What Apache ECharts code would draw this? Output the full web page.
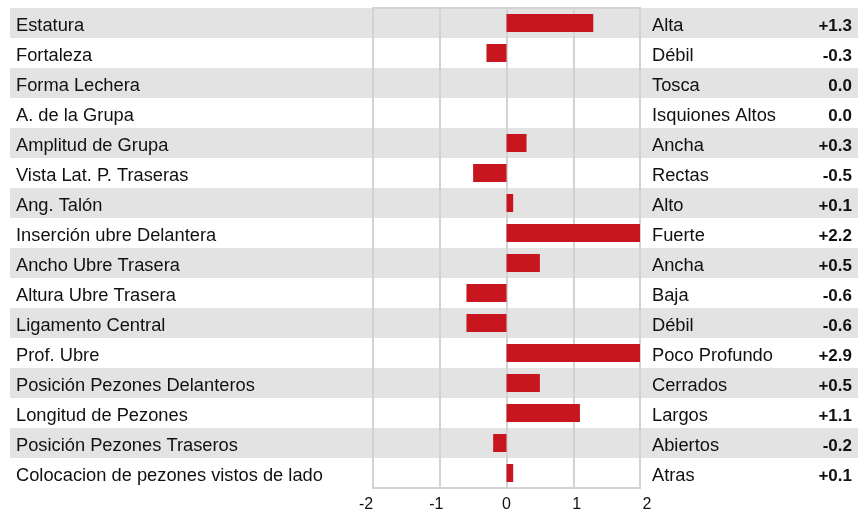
<!DOCTYPE html>
<html>
<head>
<meta charset="utf-8">
<script src="https://cdn.jsdelivr.net/npm/echarts@6/dist/echarts.min.js"></script>
<style>
  html, body { margin: 0; padding: 0; background: #fff; }
  #chart { width: 865px; height: 513px; }
</style>
</head>
<body>
<div id="chart"></div>
<script>
const traits = [
  "Estatura", "Fortaleza", "Forma Lechera", "A. de la Grupa",
  "Amplitud de Grupa", "Vista Lat. P. Traseras", "Ang. Talón",
  "Inserción ubre Delantera", "Ancho Ubre Trasera", "Altura Ubre Trasera",
  "Ligamento Central", "Prof. Ubre", "Posición Pezones Delanteros",
  "Longitud de Pezones", "Posición Pezones Traseros",
  "Colocacion de pezones vistos de lado",
];
const descriptors = [
  "Alta", "Débil", "Tosca", "Isquiones Altos", "Ancha", "Rectas", "Alto",
  "Fuerte", "Ancha", "Baja", "Débil", "Poco Profundo", "Cerrados",
  "Largos", "Abiertos", "Atras",
];
const values = [1.3, -0.3, 0.0, 0.0, 0.3, -0.5, 0.1, 2.2, 0.5, -0.6, -0.6, 2.9, 0.5, 1.1, -0.2, 0.1];
const xTicks = [-2, -1, 0, 1, 2];

const fmt = (v) => (v > 0 ? "+" : "") + v.toFixed(1);
const font = "'Liberation Sans', Arial, Helvetica, sans-serif";
const gridGray = "#d3d3d3";
const textTop = 11; // row texts sit a little below the band centre

const chart = echarts.init(document.getElementById("chart"), null, { renderer: "canvas" });

chart.setOption({
  backgroundColor: "#fff",
  animation: false,
  textStyle: { fontFamily: font },
  grid: [
    // full-width row bands
    { left: 10, right: 7, top: 8, height: 480 },
    // plot area
    { left: 373, right: 225, top: 8, height: 480, show: true, borderColor: gridGray, borderWidth: 2, backgroundColor: "transparent" },
    // tick labels
    { left: 366, right: 218, top: 8, height: 480 },
    // left names + right values
    { left: 10, right: 7, top: textTop, height: 480 },
    // descriptors
    { left: 373, right: 225, top: textTop, height: 480 },
  ],
  xAxis: [
    { gridIndex: 0, type: "value", show: false },
    {
      gridIndex: 1, type: "value", min: -2, max: 2, interval: 1,
      axisLine: { show: false }, axisTick: { show: false }, axisLabel: { show: false },
      splitLine: { show: true, lineStyle: { color: gridGray, width: 2 } },
      z: 1,
    },
    {
      gridIndex: 2, type: "value", min: xTicks[0], max: xTicks[xTicks.length - 1], interval: 1,
      axisLine: { show: false }, axisTick: { show: false }, splitLine: { show: false },
      axisLabel: { margin: 14, color: "#111", fontSize: 16, fontFamily: font },
    },
    { gridIndex: 3, type: "value", show: false },
    { gridIndex: 4, type: "value", show: false },
  ],
  yAxis: [
    {
      gridIndex: 0, type: "category", inverse: true, data: traits,
      axisLine: { show: false }, axisTick: { show: false }, axisLabel: { show: false },
      splitArea: { show: true, areaStyle: { color: ["#e3e3e3", "#ffffff"] } },
      z: -1,
    },
    {
      gridIndex: 3, type: "category", inverse: true, data: traits,
      axisLine: { show: false }, axisTick: { show: false },
      axisLabel: { inside: true, margin: 6, color: "#111", fontSize: 18.3, fontFamily: font },
    },
    {
      gridIndex: 3, type: "category", inverse: true, position: "right",
      data: values.map(fmt),
      axisLine: { show: false }, axisTick: { show: false },
      axisLabel: { inside: true, margin: 6, color: "#111", fontSize: 17, fontWeight: "bold", fontFamily: font },
    },
    {
      gridIndex: 4, type: "category", inverse: true, position: "right",
      data: descriptors,
      axisLine: { show: false }, axisTick: { show: false },
      axisLabel: { margin: 12, color: "#111", fontSize: 18.3, fontFamily: font },
    },
    {
      gridIndex: 1, type: "category", inverse: true, data: traits, show: false,
    },
    { gridIndex: 2, type: "value", show: false },
  ],
  series: [
    {
      type: "bar",
      xAxisIndex: 1,
      yAxisIndex: 4,
      data: values,
      barWidth: 18,
      clip: true,
      itemStyle: { color: "#c8161e" },
      z: 3,
    },
  ],
});
</script>
</body>
</html>
